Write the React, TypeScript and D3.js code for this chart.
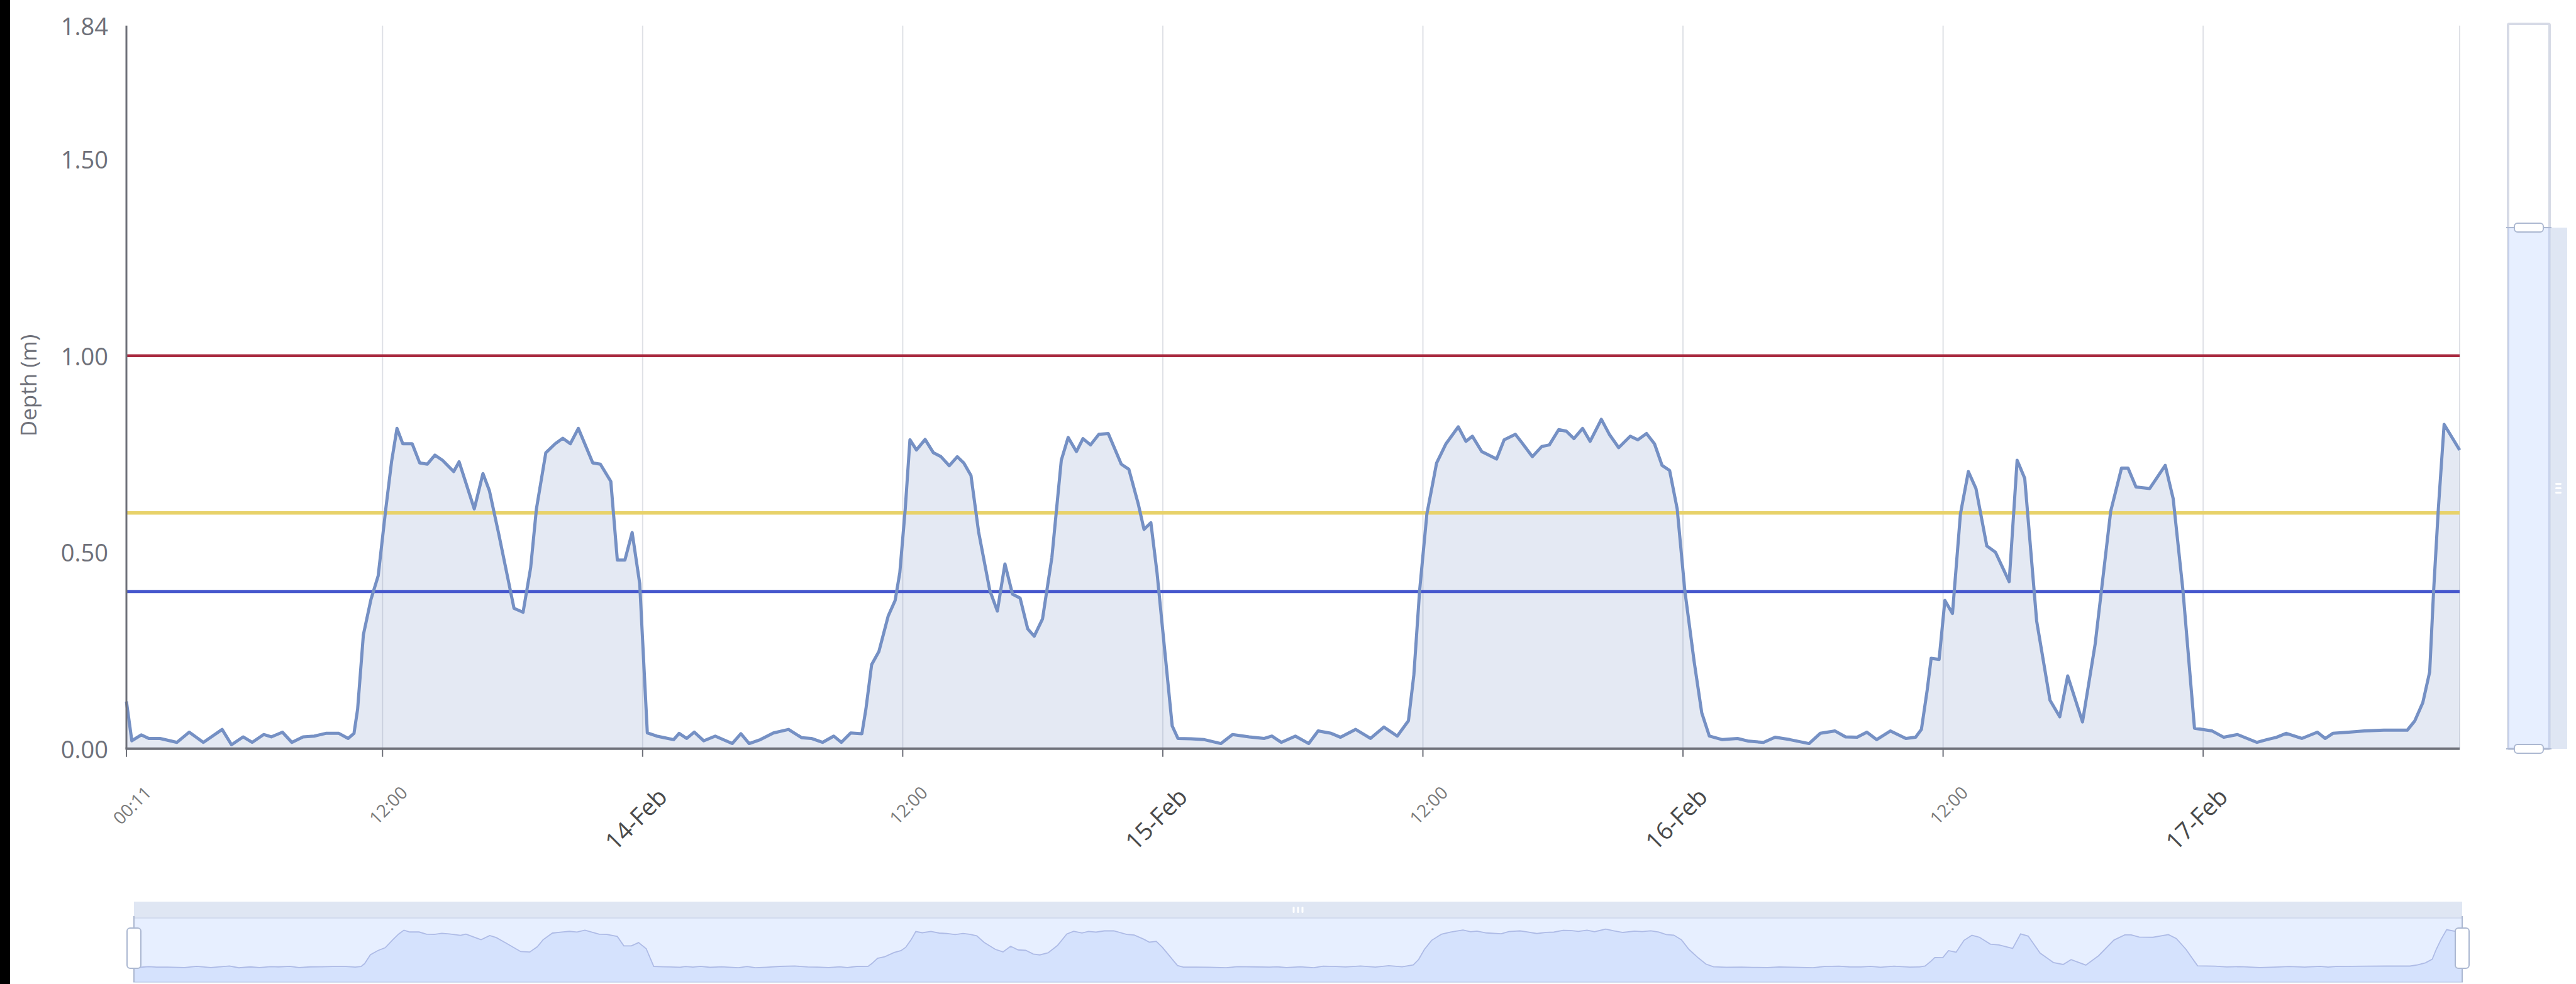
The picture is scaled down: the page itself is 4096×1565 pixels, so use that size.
import * as d3 from "d3";
import { useEffect, useRef } from "react";

// Depth readings per day: [hour of day, depth in m]
const feb13: [number, number][] = [
  [0.1833, 0.12], [0.43, 0.02], [0.87, 0.035], [1.22, 0.026], [1.74, 0.026], [2.52, 0.016],
  [3.09, 0.042], [3.73, 0.016], [4.6, 0.049], [5.03, 0.01], [5.56, 0.03], [5.99, 0.016],
  [6.51, 0.036], [6.86, 0.03], [7.38, 0.042], [7.81, 0.016], [8.33, 0.03], [8.85, 0.032],
  [9.38, 0.039], [9.98, 0.039], [10.42, 0.026], [10.68, 0.039], [10.85, 0.1], [11.11, 0.29],
  [11.46, 0.38], [11.8, 0.44], [12.15, 0.61], [12.41, 0.73], [12.67, 0.815], [12.93, 0.776],
  [13.37, 0.776], [13.72, 0.727], [14.06, 0.724], [14.41, 0.747], [14.76, 0.734], [15.28, 0.705],
  [15.54, 0.73], [16.23, 0.61], [16.63, 0.7], [16.93, 0.656], [17.36, 0.545], [18.06, 0.357],
  [18.49, 0.347], [18.84, 0.46], [19.1, 0.61], [19.53, 0.753], [19.97, 0.776], [20.31, 0.79],
  [20.66, 0.776], [21.04, 0.815], [21.7, 0.727], [22.05, 0.724], [22.53, 0.68], [22.83, 0.48],
  [23.18, 0.48], [23.52, 0.55], [23.87, 0.42],
];
const feb14: [number, number][] = [
  [0.22, 0.04], [0.65, 0.032], [1.0, 0.028], [1.43, 0.023], [1.69, 0.039], [2.04, 0.026],
  [2.39, 0.042], [2.82, 0.02], [3.35, 0.032], [4.13, 0.013], [4.53, 0.038], [4.92, 0.013],
  [5.44, 0.023], [6.04, 0.04], [6.74, 0.049], [7.34, 0.028], [7.78, 0.026], [8.3, 0.016],
  [8.82, 0.032], [9.17, 0.016], [9.6, 0.04], [10.12, 0.038], [10.3, 0.1], [10.56, 0.214],
  [10.9, 0.247], [11.34, 0.338], [11.65, 0.377], [11.86, 0.448], [12.12, 0.61], [12.33, 0.786],
  [12.64, 0.76], [13.04, 0.787], [13.42, 0.753], [13.77, 0.743], [14.15, 0.72], [14.51, 0.743],
  [14.81, 0.727], [15.15, 0.695], [15.5, 0.552], [16.02, 0.403], [16.37, 0.35], [16.71, 0.47],
  [17.06, 0.393], [17.41, 0.383], [17.76, 0.305], [18.07, 0.286], [18.45, 0.33], [18.88, 0.487],
  [19.32, 0.734], [19.63, 0.792], [20.01, 0.756], [20.32, 0.789], [20.67, 0.773], [21.05, 0.8],
  [21.49, 0.802], [22.09, 0.724], [22.44, 0.711], [22.87, 0.623], [23.13, 0.558], [23.45, 0.575],
  [23.74, 0.448],
];
const feb15: [number, number][] = [
  [0.09, 0.253], [0.44, 0.058], [0.7, 0.026], [1.3, 0.025], [1.91, 0.023], [2.69, 0.013],
  [3.21, 0.036], [3.99, 0.03], [4.69, 0.026], [5.04, 0.032], [5.47, 0.016], [6.12, 0.032],
  [6.73, 0.013], [7.16, 0.045], [7.77, 0.039], [8.2, 0.029], [8.9, 0.049], [9.59, 0.026],
  [10.2, 0.055], [10.81, 0.032], [11.33, 0.071], [11.59, 0.188], [11.85, 0.403], [12.19, 0.597],
  [12.63, 0.727], [13.06, 0.776], [13.63, 0.819], [13.98, 0.782], [14.28, 0.795], [14.71, 0.756],
  [15.4, 0.737], [15.75, 0.786], [16.27, 0.8], [16.55, 0.78], [17.05, 0.743], [17.49, 0.769],
  [17.83, 0.773], [18.27, 0.812], [18.61, 0.808], [18.96, 0.789], [19.36, 0.815], [19.71, 0.782],
  [20.23, 0.838], [20.6, 0.8], [21.04, 0.766], [21.56, 0.795], [21.91, 0.786], [22.31, 0.802],
  [22.69, 0.776], [23.04, 0.721], [23.39, 0.708], [23.73, 0.61],
];
const feb16: [number, number][] = [
  [0.08, 0.403], [0.51, 0.221], [0.86, 0.091], [1.21, 0.032], [1.82, 0.023], [2.51, 0.026],
  [3.03, 0.019], [3.72, 0.016], [4.25, 0.029], [4.94, 0.023], [5.81, 0.013], [6.33, 0.039],
  [7.02, 0.045], [7.5, 0.03], [8.03, 0.029], [8.48, 0.042], [8.93, 0.023], [9.56, 0.045],
  [10.28, 0.026], [10.73, 0.029], [11.0, 0.049], [11.27, 0.149], [11.45, 0.23], [11.81, 0.227],
  [12.08, 0.377], [12.44, 0.344], [12.8, 0.597], [13.16, 0.705], [13.52, 0.662], [14.01, 0.516],
  [14.42, 0.5], [15.05, 0.425], [15.41, 0.734], [15.77, 0.688], [16.31, 0.325], [16.94, 0.123],
  [17.39, 0.081], [17.75, 0.185], [18.43, 0.068], [19.01, 0.266], [19.73, 0.604], [20.23, 0.714],
  [20.54, 0.714], [20.9, 0.666], [21.53, 0.662], [22.25, 0.721], [22.61, 0.636], [23.06, 0.403],
  [23.6, 0.052],
];
const feb17: [number, number][] = [
  [0.41, 0.045], [0.95, 0.029], [1.58, 0.036], [2.03, 0.026], [2.48, 0.016], [2.93, 0.023],
  [3.38, 0.029], [3.83, 0.039], [4.55, 0.026], [5.27, 0.042], [5.63, 0.026], [5.99, 0.039],
  [6.71, 0.042], [7.43, 0.045], [8.33, 0.047], [9.41, 0.047], [9.77, 0.071], [10.13, 0.117],
  [10.45, 0.195], [10.63, 0.403], [10.85, 0.61], [11.12, 0.825], [11.84, 0.76],
];
const readingDays: [number, [number, number][]][] = [
  [13, feb13], [14, feb14], [15, feb15], [16, feb16], [17, feb17],
];

const yTickValues = [0, 0.5, 1.0, 1.5, 1.84];
const yMax = 1.84;

// Alarm levels
const thresholdLevels = [1.0, 0.6, 0.4];
const thresholdColors = ["#a8293f", "#e8d26a", "#4657cd"];
const thresholdWidths = [4.5, 5.5, 5];

const W = 4096;
const H = 1565;
const plot = { left: 201, right: 3911, top: 40.7, bottom: 1190.7 };
const font = "'Open Sans', 'Noto Sans', sans-serif";
const axisColor = "#6E7079";

const App = () => {
  const svgRef = useRef<SVGSVGElement>(null);

  useEffect(() => {
    if (!svgRef.current) return;
    const svg = d3.select(svgRef.current);
    svg.selectAll("*").remove();

    const data = readingDays.flatMap(([day, rows]) =>
      rows.map(([h, v]) => ({ t: new Date(2021, 1, day, 0, Math.round(h * 60)), v }))
    );
    const extent = d3.extent(data, d => d.t) as [Date, Date];

    const x = d3.scaleTime().domain(extent).range([plot.left, plot.right]);
    const y = d3.scaleLinear().domain([0, yMax]).range([plot.bottom, plot.top]);

    svg.append("rect").attr("width", W).attr("height", H).attr("fill", "#fff");
    // dark strip on the left edge of the screenshot
    svg.append("rect").attr("width", 16).attr("height", H).attr("fill", "#000");

    // x ticks: first reading, then every 12 hours
    const ticks = [extent[0], ...d3.timeHour.every(12)!.range(d3.timeHour.ceil(extent[0]), extent[1])];

    // vertical split lines
    svg
      .append("g")
      .selectAll("line")
      .data([...ticks.slice(1).map(t => x(t)), plot.right])
      .join("line")
      .attr("x1", d => d)
      .attr("x2", d => d)
      .attr("y1", plot.top)
      .attr("y2", plot.bottom)
      .attr("stroke", "#dfe1e6")
      .attr("stroke-width", 2);

    // area + line
    const area = d3
      .area<{ t: Date; v: number }>()
      .x(d => x(d.t))
      .y0(plot.bottom)
      .y1(d => y(d.v));
    svg.append("path").datum(data).attr("d", area).attr("fill", "#7891c4").attr("fill-opacity", 0.2);

    // thresholds
    thresholdLevels.forEach((lv, i) => {
      svg
        .append("line")
        .attr("x1", plot.left)
        .attr("x2", plot.right)
        .attr("y1", y(lv))
        .attr("y2", y(lv))
        .attr("stroke", thresholdColors[i])
        .attr("stroke-width", thresholdWidths[i]);
    });

    const line = d3
      .line<{ t: Date; v: number }>()
      .x(d => x(d.t))
      .y(d => y(d.v));
    svg
      .append("path")
      .datum(data)
      .attr("d", line)
      .attr("fill", "none")
      .attr("stroke", "#7590c4")
      .attr("stroke-width", 5)
      .attr("stroke-linejoin", "round");

    // axes
    svg
      .append("line")
      .attr("x1", plot.left)
      .attr("x2", plot.left)
      .attr("y1", plot.top)
      .attr("y2", plot.bottom)
      .attr("stroke", axisColor)
      .attr("stroke-width", 3);
    svg
      .append("line")
      .attr("x1", plot.left - 1.5)
      .attr("x2", plot.right)
      .attr("y1", plot.bottom)
      .attr("y2", plot.bottom)
      .attr("stroke", axisColor)
      .attr("stroke-width", 4);
    svg
      .append("g")
      .selectAll("line")
      .data(ticks)
      .join("line")
      .attr("x1", d => x(d))
      .attr("x2", d => x(d))
      .attr("y1", plot.bottom)
      .attr("y2", plot.bottom + 13)
      .attr("stroke", axisColor)
      .attr("stroke-width", 2);

    // y labels
    svg
      .append("g")
      .selectAll("text")
      .data(yTickValues)
      .join("text")
      .attr("x", plot.left - 29)
      .attr("y", d => y(d))
      .attr("text-anchor", "end")
      .attr("dominant-baseline", "central")
      .attr("font-family", font)
      .attr("font-size", 38)
      .attr("fill", axisColor)
      .text(d => d3.format(".2f")(d));

    svg
      .append("text")
      .attr("transform", "translate(44,613) rotate(-90)")
      .attr("text-anchor", "middle")
      .attr("dominant-baseline", "central")
      .attr("font-family", font)
      .attr("font-size", 35)
      .attr("fill", axisColor)
      .text("Depth (m)");

    // x labels, rotated
    const isDay = (t: Date) => t.getHours() === 0 && t.getMinutes() === 0;
    svg
      .append("g")
      .selectAll("text")
      .data(ticks)
      .join("text")
      .attr("transform", d =>
        `translate(${x(d) + 41.5},${plot.bottom + (isDay(d) ? 79 : 72)}) rotate(-45)`
      )
      .attr("text-anchor", "end")
      .attr("font-family", font)
      .attr("font-size", d => (isDay(d) ? 38 : 28))
      .attr("fill", d => (isDay(d) ? "#4a4a4a" : "#7a7a7a"))
      .text(d => (isDay(d) ? d3.timeFormat("%d-%b")(d) : d3.timeFormat("%H:%M")(d)));

    // ---- bottom data zoom slider ----
    const bz = { left: 213, right: 3915, moveTop: 1434, top: 1460, bottom: 1562 };
    const mx = d3.scaleTime().domain(extent).range([bz.left, bz.right]);
    const my = d3.scaleLinear().domain([0, 0.82]).range([1540, 1479]);
    const bg = svg.append("g");
    bg.append("rect")
      .attr("x", bz.left)
      .attr("y", bz.moveTop)
      .attr("width", bz.right - bz.left)
      .attr("height", bz.top - bz.moveTop)
      .attr("fill", "#D2DBEE")
      .attr("opacity", 0.7);
    bg.append("rect")
      .attr("x", bz.left)
      .attr("y", bz.top)
      .attr("width", bz.right - bz.left)
      .attr("height", bz.bottom - bz.top)
      .attr("fill", "rgba(135,175,255,0.2)")
      .attr("stroke", "#d2dbee")
      .attr("stroke-width", 2);
    const miniArea = d3
      .area<{ t: Date; v: number }>()
      .x(d => mx(d.t))
      .y0(bz.bottom)
      .y1(d => my(d.v));
    const miniLine = d3
      .line<{ t: Date; v: number }>()
      .x(d => mx(d.t))
      .y(d => my(d.v));
    bg.append("path").datum(data).attr("d", miniArea).attr("fill", "#8fb0f7").attr("fill-opacity", 0.2);
    bg.append("path")
      .datum(data)
      .attr("d", miniLine)
      .attr("fill", "none")
      .attr("stroke", "#aebbe6")
      .attr("stroke-width", 1.8);
    // grip
    [-7, 0, 7].forEach(dx => {
      bg.append("rect")
        .attr("x", (bz.left + bz.right) / 2 + dx - 1.5)
        .attr("y", (bz.moveTop + bz.top) / 2 - 5)
        .attr("width", 3)
        .attr("height", 10)
        .attr("rx", 1.5)
        .attr("fill", "#fff");
    });
    [bz.left, bz.right].forEach(hx => {
      bg.append("line")
        .attr("x1", hx)
        .attr("x2", hx)
        .attr("y1", 1457)
        .attr("y2", bz.bottom)
        .attr("stroke", "#ACB8D1")
        .attr("stroke-width", 2);
      bg.append("rect")
        .attr("x", hx - 11)
        .attr("y", 1476)
        .attr("width", 22)
        .attr("height", 64)
        .attr("rx", 5)
        .attr("fill", "#fff")
        .attr("stroke", "#ACB8D1")
        .attr("stroke-width", 2);
    });

    // ---- right y data zoom slider ----
    const rz = { left: 3988, right: 4054, moveRight: 4082, top: 38, selTop: 362, bottom: 1191 };
    const rg = svg.append("g");
    rg.append("rect")
      .attr("x", rz.left)
      .attr("y", rz.top)
      .attr("width", rz.right - rz.left)
      .attr("height", rz.bottom - rz.top)
      .attr("rx", 2)
      .attr("fill", "#fff")
      .attr("stroke", "#d6dae6")
      .attr("stroke-width", 4);
    rg.append("rect")
      .attr("x", rz.left)
      .attr("y", rz.selTop)
      .attr("width", rz.right - rz.left)
      .attr("height", rz.bottom - rz.selTop)
      .attr("fill", "rgba(135,175,255,0.2)");
    rg.append("rect")
      .attr("x", rz.right)
      .attr("y", rz.selTop)
      .attr("width", rz.moveRight - rz.right)
      .attr("height", rz.bottom - rz.selTop)
      .attr("fill", "#D2DBEE")
      .attr("opacity", 0.7);
    [-7, 0, 7].forEach(dy => {
      rg.append("rect")
        .attr("x", (rz.right + rz.moveRight) / 2 - 5)
        .attr("y", (rz.selTop + rz.bottom) / 2 + dy - 1.5)
        .attr("width", 10)
        .attr("height", 3)
        .attr("rx", 1.5)
        .attr("fill", "#fff");
    });
    [rz.selTop, rz.bottom].forEach(hy => {
      rg.append("line")
        .attr("x1", rz.left - 3)
        .attr("x2", rz.right + 3)
        .attr("y1", hy)
        .attr("y2", hy)
        .attr("stroke", "#ACB8D1")
        .attr("stroke-width", 2);
      rg.append("rect")
        .attr("x", (rz.left + rz.right) / 2 - 23)
        .attr("y", hy - 7)
        .attr("width", 46)
        .attr("height", 14)
        .attr("rx", 5)
        .attr("fill", "#fff")
        .attr("stroke", "#ACB8D1")
        .attr("stroke-width", 2);
    });
  }, []);

  return (
    <svg
      ref={svgRef}
      width={W}
      height={H}
      style={{ position: "absolute", left: 0, top: 0, display: "block" }}
    ></svg>
  );
};

export default App;
